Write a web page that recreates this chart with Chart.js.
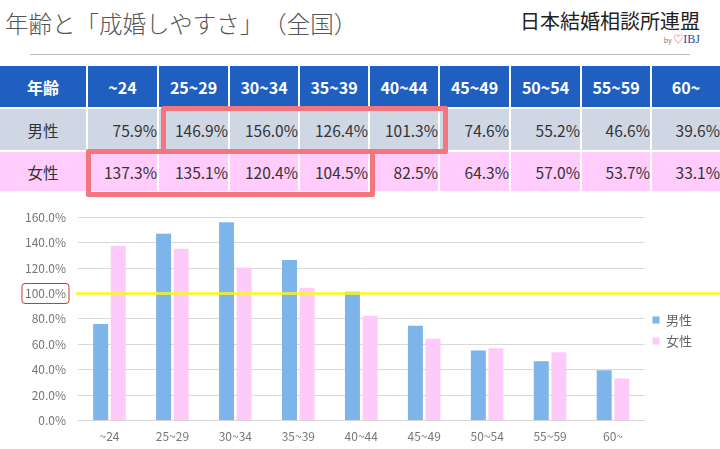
<!DOCTYPE html>
<html lang="ja">
<head>
<meta charset="utf-8">
<script src="https://cdn.jsdelivr.net/npm/chart.js@4.4.1/dist/chart.umd.min.js"></script>
<style>
  html, body { margin: 0; padding: 0; background: #fff; }
  body { width: 720px; height: 449px; position: relative; overflow: hidden;
         font-family: "Noto Sans CJK JP", "Noto Sans", sans-serif; }
  #title { position: absolute; left: 5px; top: 6px; font-size: 23.5px; text-spacing-trim: space-all; color: #555; font-weight: 300; white-space: nowrap; }
  #logo { position: absolute; right: 20px; top: 6px; font-size: 20px; color: #222; white-space: nowrap; }
  #logo-sub { position: absolute; right: 20px; top: 31px; font-size: 7px; color: #777; white-space: nowrap; }
  #logo-sub .heart { color: #d33; font-size: 10px; }
  #logo-sub .ibj { color: #2a4a9a; font-family: "Liberation Serif", serif; font-size: 12px; }
  #rule { position: absolute; left: 30px; top: 54px; width: 660px; height: 0; border-top: 1.5px solid #bbb; }
  .cell { position: absolute; box-sizing: border-box; display: flex; align-items: center; white-space: nowrap; }
  .head { background: #1f5fc0; color: #fff; font-weight: bold; font-size: 16px; justify-content: center; }
  .male { background: #d0d7e4; color: #333; font-size: 15.5px; }
  .female { background: #ffccfb; color: #333; font-size: 15.5px; }
  .num { justify-content: flex-end; padding-right: 0; }
  .lab { justify-content: center; }
  .mark { position: absolute; box-sizing: border-box; border: 5px solid #f4757d; border-radius: 2px; }
  #chart-wrap { position: absolute; left: 0; top: 198px; width: 720px; height: 255px; }
</style>
</head>
<body>
<div id="title">年齢と「成婚しやすさ」（全国）</div>
<div id="logo">日本結婚相談所連盟</div>
<div id="logo-sub">by <span class="heart">♡</span><span class="ibj">IBJ</span></div>
<div id="rule"></div>
<div id="table"></div>
<div class="mark" style="left:161px; top:106px; width:287px; height:48px;"></div>
<div class="mark" style="left:86px; top:149px; width:289px; height:48px;"></div>
<div id="chart-wrap"><canvas id="chart"></canvas></div>
<script>
// --- DATA ---
const ageGroups = ['~24', '25~29', '30~34', '35~39', '40~44', '45~49', '50~54', '55~59', '60~'];
const maleRates = [75.9, 146.9, 156.0, 126.4, 101.3, 74.6, 55.2, 46.6, 39.6];
const femaleRates = [137.3, 135.1, 120.4, 104.5, 82.5, 64.3, 57.0, 53.7, 33.1];
const seriesNames = ['男性', '女性'];
const headLabel = '年齢';
const yMax = 160;
const yStep = 20;
const baseline = 100;

// --- TABLE ---
const colEdges = [0, 88, 159, 230, 300, 370, 440, 511, 582, 652, 722];
const rows = [
    { cls: 'head', top: 66, bottom: 107 },
    { cls: 'male', top: 109, bottom: 150 },
    { cls: 'female', top: 152, bottom: 191 }
];
const table = document.getElementById('table');
const fmt = v => v.toFixed(1) + '%';
rows.forEach((row, r) => {
    const texts = r === 0 ? [headLabel, ...ageGroups]
        : r === 1 ? [seriesNames[0], ...maleRates.map(fmt)]
        : [seriesNames[1], ...femaleRates.map(fmt)];
    texts.forEach((t, c) => {
        const div = document.createElement('div');
        div.className = 'cell ' + row.cls + (r === 0 ? '' : (c === 0 ? ' lab' : ' num'));
        div.style.left = colEdges[c] + 'px';
        div.style.width = (colEdges[c + 1] - colEdges[c] - 2) + 'px';
        div.style.top = row.top + 'px';
        div.style.height = (row.bottom - row.top) + 'px';
        div.textContent = t;
        table.appendChild(div);
    });
});

// --- CHART ---
const fontFamily = '"Noto Sans CJK JP", "Noto Sans", sans-serif';

const baselinePlugin = {
    id: 'baseline',
    afterDatasetsDraw(chart) {
        const { ctx, chartArea, scales } = chart;
        const y = scales.y.getPixelForValue(baseline);
        ctx.save();
        ctx.strokeStyle = 'rgba(250, 245, 40, 0.8)';
        ctx.lineWidth = 3;
        ctx.beginPath();
        ctx.moveTo(chartArea.left - 2, y);
        ctx.lineTo(chart.width, y);
        ctx.stroke();

        // red frame round the 100.0% tick label
        ctx.font = '12px ' + fontFamily;
        const w = ctx.measureText(fmt(baseline)).width;
        const right = scales.y.right - scales.y.options.ticks.padding + 3;
        const left = right - w - 6;
        ctx.strokeStyle = '#c0393b';
        ctx.lineWidth = 1;
        ctx.beginPath();
        ctx.roundRect(left, y - 10, right - left, 20, 3);
        ctx.stroke();
        ctx.restore();
    }
};

new Chart(document.getElementById('chart'), {
    type: 'bar',
    data: {
        labels: ageGroups,
        datasets: [
            { label: seriesNames[0], data: maleRates, backgroundColor: '#7db4ea' },
            { label: seriesNames[1], data: femaleRates, backgroundColor: '#fdcafa' }
        ]
    },
    options: {
        responsive: true,
        maintainAspectRatio: false,
        animation: false,
        layout: { padding: { left: 0, right: 18, top: 10, bottom: 0 } },
        datasets: { bar: { categoryPercentage: 0.56, barPercentage: 0.85 } },
        plugins: {
            tooltip: { enabled: false },
            legend: {
                position: 'right',
                labels: {
                    boxWidth: 7, boxHeight: 7, padding: 8,
                    color: '#666', font: { family: fontFamily, size: 13 }
                }
            }
        },
        scales: {
            x: {
                grid: { display: false, drawTicks: false },
                border: { color: '#d9d9d9' },
                ticks: { color: '#777', padding: 9, font: { family: fontFamily, size: 12 } }
            },
            y: {
                min: 0, max: yMax,
                afterFit: s => { s.width = 78; },
                grid: { color: '#d9d9d9', drawTicks: false },
                border: { display: false },
                ticks: {
                    stepSize: yStep, padding: 12, color: '#777',
                    font: { family: fontFamily, size: 12 },
                    callback: v => fmt(v)
                }
            }
        }
    },
    plugins: [baselinePlugin]
});
</script>
</body>
</html>
